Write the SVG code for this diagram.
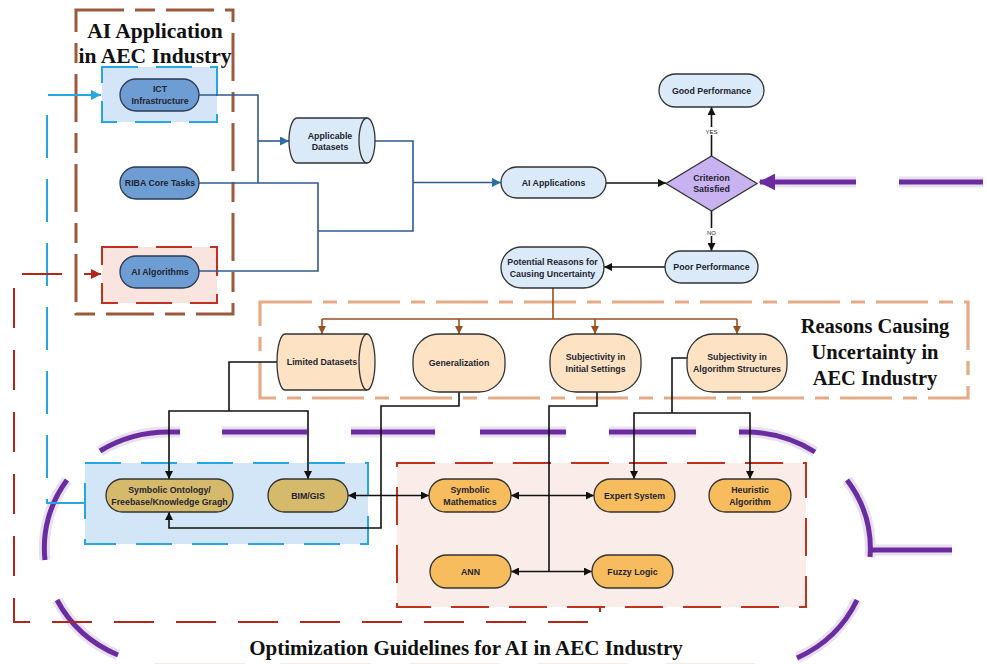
<svg xmlns="http://www.w3.org/2000/svg" width="987" height="664" viewBox="0 0 987 664">
<style>
.nt{font-family:"Liberation Sans",Arial,sans-serif;font-weight:bold;font-size:8.8px;fill:#1e2430;text-anchor:middle}
.sm{font-family:"Liberation Sans",Arial,sans-serif;font-size:6px;fill:#222;text-anchor:middle}
.ttl{font-family:"Liberation Serif","Times New Roman",serif;font-weight:bold;fill:#111;text-anchor:middle}
.dk{fill:#6e9dd4;stroke:#2b3a52;stroke-width:1.3}
.lb{fill:#dbeaf8;stroke:#333;stroke-width:1.3}
.pc{fill:#fde2c4;stroke:#333;stroke-width:1.3}
.kh{fill:#d6ba6b;stroke:#333;stroke-width:1.3}
.or{fill:#f6bc5e;stroke:#333;stroke-width:1.3}
.blue{fill:none;stroke:#2f5b8f;stroke-width:1.6}
.blk{fill:none;stroke:#111;stroke-width:1.6}
.brn{fill:none;stroke:#9a4f1e;stroke-width:1.6}
.pur{fill:none;stroke:#6a2ca0;stroke-width:5}
.halo{fill:none;stroke:#e8e0f0;stroke-width:11}
</style>
<defs>
<marker id="aBlue" viewBox="0 0 10 10" refX="10" refY="5" markerUnits="userSpaceOnUse" markerWidth="10" markerHeight="9" orient="auto-start-reverse"><path d="M0,0 L10,5 L0,10 z" fill="#2e6da4"/></marker>
<marker id="aBlk" viewBox="0 0 10 10" refX="10" refY="5" markerUnits="userSpaceOnUse" markerWidth="9" markerHeight="8" orient="auto-start-reverse"><path d="M0,0 L10,5 L0,10 z" fill="#111"/></marker>
<marker id="aBrn" viewBox="0 0 10 10" refX="10" refY="5" markerUnits="userSpaceOnUse" markerWidth="9" markerHeight="8" orient="auto-start-reverse"><path d="M0,0 L10,5 L0,10 z" fill="#9a4f1e"/></marker>
<marker id="aCy" viewBox="0 0 10 10" refX="10" refY="5" markerUnits="userSpaceOnUse" markerWidth="11" markerHeight="10" orient="auto-start-reverse"><path d="M0,0 L10,5 L0,10 z" fill="#27a6df"/></marker>
<marker id="aRed" viewBox="0 0 10 10" refX="10" refY="5" markerUnits="userSpaceOnUse" markerWidth="11" markerHeight="10" orient="auto-start-reverse"><path d="M0,0 L10,5 L0,10 z" fill="#b5261a"/></marker>
<marker id="aPur" viewBox="0 0 10 10" refX="9" refY="5" markerUnits="userSpaceOnUse" markerWidth="17" markerHeight="17" orient="auto-start-reverse"><path d="M0,0 L10,5 L0,10 z" fill="#6a2ca0"/></marker>
</defs>
<rect width="987" height="664" fill="#fff"/>

<g id="regions">
  <g class="halo">
    <path d="M100,451 A125,118 0 0 1 168,432 L180,432"/>
    <path d="M67,480 A125,118 0 0 0 45,560"/>
    <path d="M57,600 A125,118 0 0 0 118,655"/>
    <path d="M222,432 H307 M351,432 H435 M480,432 H566 M609,432 H696"/>
    <path d="M739,432 H745 A125,118 0 0 1 815,452"/>
    <path d="M847,480 A125,118 0 0 1 870,557"/>
    <path d="M857,600 A125,118 0 0 1 797,658"/>
    <path d="M869,550 H952"/>
    <path d="M856,182 H770 M899,182 H983"/>
  </g>
  <path d="M154,670 H245 M280,670 H371 M409,670 H500 M537,670 H628 M665,670 H755" fill="none" stroke="#f6ebe6" stroke-width="14"/>
  <g class="pur">
    <path d="M100,451 A125,118 0 0 1 168,432 L180,432"/>
    <path d="M67,480 A125,118 0 0 0 45,560"/>
    <path d="M57,600 A125,118 0 0 0 118,655"/>
    <path d="M222,432 H307 M351,432 H435 M480,432 H566 M609,432 H696"/>
    <path d="M739,432 H745 A125,118 0 0 1 815,452"/>
    <path d="M847,480 A125,118 0 0 1 870,557"/>
    <path d="M857,600 A125,118 0 0 1 797,658"/>
    <path d="M869,550 H952"/>
  </g>
  <rect x="76" y="10" width="157" height="304" fill="none" stroke="#9c5a3c" stroke-width="3" stroke-dasharray="48 11 20 11"/>
  <rect x="260" y="302" width="708" height="96" fill="none" stroke="#e3ab86" stroke-width="3.2" stroke-dasharray="52 11 14 11"/>
  <rect x="102" y="67" width="115" height="55" fill="#d3e5f6" stroke="none"/>
  <rect x="102" y="67" width="115" height="55" fill="none" stroke="#27a6df" stroke-width="2" stroke-dasharray="36 18"/>
  <rect x="102" y="247" width="115" height="56" fill="#f9e4e0" stroke="none"/>
  <rect x="102" y="247" width="115" height="56" fill="none" stroke="#c0321e" stroke-width="2" stroke-dasharray="36 18"/>
  <rect x="85" y="463" width="283" height="81" fill="#d3e6f7" stroke="none"/>
  <rect x="85" y="463" width="283" height="81" fill="none" stroke="#27a6df" stroke-width="2" stroke-dasharray="36 20"/>
  <rect x="397" y="463" width="409" height="144" fill="#faece8" stroke="none"/>
  <rect x="397" y="463" width="409" height="144" fill="none" stroke="#c0321e" stroke-width="2" stroke-dasharray="38 20"/>
  <text class="ttl" x="155" y="38" font-size="21.5">AI Application</text>
  <text class="ttl" x="155" y="63" font-size="21.5">in AEC Industry</text>
  <text class="ttl" x="875" y="333" font-size="20.5">Reasons Causing</text>
  <text class="ttl" x="875" y="359" font-size="20.5">Uncertainty in</text>
  <text class="ttl" x="875" y="385" font-size="20.5">AEC Industry</text>
  <text class="ttl" x="466" y="655" font-size="21">Optimization Guidelines for AI in AEC Industry</text>
</g>

<g id="connectors">
  <path d="M48,95 H101" fill="none" stroke="#27a6df" stroke-width="2" marker-end="url(#aCy)"/>
  <path d="M47,115 V503 H85" fill="none" stroke="#27a6df" stroke-width="2" stroke-dasharray="43 21"/>
  <path d="M101,274 H14 V622 H600 V607" fill="none" stroke="#b5261a" stroke-width="2" stroke-dasharray="40 22" stroke-dashoffset="23" marker-start="url(#aRed)"/>
  <path class="blue" d="M199,95 H258 V183"/>
  <path class="blue" d="M199,183 H318 V271 H199"/>
  <path class="blue" d="M258,141 H289" marker-end="url(#aBlue)"/>
  <path class="blue" d="M369,141 H413 V231 H318"/>
  <path class="blue" d="M413,182.5 H501" marker-end="url(#aBlue)"/>
  <path class="blk" d="M606,183 H666" marker-end="url(#aBlk)"/>
  <path class="blk" d="M711.5,156 V107" marker-end="url(#aBlk)"/>
  <path class="blk" d="M711.5,211 V251" marker-end="url(#aBlk)"/>
  <path class="blk" d="M665,267 H604" marker-end="url(#aBlk)"/>
  <rect x="702" y="127" width="19" height="8" fill="#fff"/>
  <text class="sm" x="711.5" y="133.5">YES</text>
  <rect x="704" y="228" width="15" height="8" fill="#fff"/>
  <text class="sm" x="711.5" y="234.5">NO</text>
  <path class="pur" d="M856,182 H760" marker-end="url(#aPur)"/>
  <path class="pur" d="M899,182 H983"/>
  <path class="brn" d="M553,288 V319 M322,319 H737"/>
  <path class="brn" d="M322,319 V334" marker-end="url(#aBrn)"/>
  <path class="brn" d="M459,319 V334" marker-end="url(#aBrn)"/>
  <path class="brn" d="M595,319 V334" marker-end="url(#aBrn)"/>
  <path class="brn" d="M737,319 V334" marker-end="url(#aBrn)"/>
  <path class="blk" d="M277,362 H229 V411"/>
  <path class="blk" d="M229,411 H169 V479" marker-end="url(#aBlk)"/>
  <path class="blk" d="M229,411 H308 V479" marker-end="url(#aBlk)"/>
  <path class="blk" d="M459,392 V406 H381 V528 H169 V512" marker-end="url(#aBlk)"/>
  <path class="blk" d="M597,392 V406 H549 V571.5"/>
  <path class="blk" d="M688,358 H672 V413"/>
  <path class="blk" d="M672,413 H634 V479" marker-end="url(#aBlk)"/>
  <path class="blk" d="M672,413 H750 V479" marker-end="url(#aBlk)"/>
  <path class="blk" d="M348,495.5 H429" marker-start="url(#aBlk)" marker-end="url(#aBlk)"/>
  <path class="blk" d="M511,495.5 H594" marker-start="url(#aBlk)" marker-end="url(#aBlk)"/>
  <path class="blk" d="M511,571.5 H592" marker-start="url(#aBlk)" marker-end="url(#aBlk)"/>
</g>

<g id="ict">
  <rect class="dk" x="120" y="79" width="79" height="32" rx="16"/>
  <text class="nt" x="160" y="92">ICT</text>
  <text class="nt" x="160" y="103.5">Infrastructure</text>
</g>
<g id="riba">
  <rect class="dk" x="120" y="167" width="79" height="32" rx="16"/>
  <text class="nt" x="160" y="186">RIBA Core Tasks</text>
</g>
<g id="ai-algorithms">
  <rect class="dk" x="120" y="256" width="79" height="32" rx="16"/>
  <text class="nt" x="160" y="275">AI Algorithms</text>
</g>
<g id="applicable-datasets">
  <path class="lb" d="M297,118 H367 A8,22.5 0 0 1 367,163 H297 A8,22.5 0 0 1 297,118 Z"/>
  <path d="M367,118 A8,22.5 0 0 0 367,163" fill="none" stroke="#333" stroke-width="1.3"/>
  <text class="nt" x="330" y="138.5">Applicable</text>
  <text class="nt" x="330" y="150">Datasets</text>
</g>
<g id="ai-applications">
  <rect class="lb" x="501" y="167" width="105" height="31" rx="15.5"/>
  <text class="nt" x="553.5" y="185.5">AI Applications</text>
</g>
<g id="criterion">
  <polygon points="711.5,156 757,183.5 711.5,211 666,183.5" fill="#c9b2f0" stroke="#333" stroke-width="1.3"/>
  <text class="nt" x="711.5" y="180.5">Criterion</text>
  <text class="nt" x="711.5" y="192">Satisfied</text>
</g>
<g id="good-performance">
  <rect class="lb" x="659" y="74" width="105" height="33" rx="16.5"/>
  <text class="nt" x="711.5" y="93.5">Good Performance</text>
</g>
<g id="poor-performance">
  <rect class="lb" x="665" y="251" width="93" height="32" rx="16"/>
  <text class="nt" x="711.5" y="270">Poor Performance</text>
</g>
<g id="potential-reasons">
  <rect class="lb" x="501" y="247" width="103" height="41" rx="20.5"/>
  <text class="nt" x="552.5" y="264.5">Potential Reasons for</text>
  <text class="nt" x="552.5" y="276.5">Causing Uncertainty</text>
</g>
<g id="limited-datasets">
  <path class="pc" d="M285,334 H367 A8,28 0 0 1 367,390 H285 A8,28 0 0 1 285,334 Z"/>
  <path d="M367,334 A8,28 0 0 0 367,390" fill="none" stroke="#333" stroke-width="1.3"/>
  <text class="nt" x="322" y="365">Limited Datasets</text>
</g>
<g id="generalization">
  <rect class="pc" x="413" y="334" width="92" height="58" rx="26"/>
  <text class="nt" x="459" y="366">Generalization</text>
</g>
<g id="subjectivity-initial">
  <rect class="pc" x="550" y="334" width="91" height="58" rx="26"/>
  <text class="nt" x="595.5" y="359.5">Subjectivity in</text>
  <text class="nt" x="595.5" y="371.5">Initial Settings</text>
</g>
<g id="subjectivity-algorithm">
  <rect class="pc" x="687" y="334" width="100" height="58" rx="26"/>
  <text class="nt" x="737" y="359.5">Subjectivity in</text>
  <text class="nt" x="737" y="371.5">Algorithm Structures</text>
</g>
<g id="symbolic-ontology">
  <rect class="kh" x="106" y="479" width="127" height="33" rx="16.5"/>
  <text class="nt" x="169.5" y="492.5">Symbolic Ontology/</text>
  <text class="nt" x="169.5" y="504.5">Freebase/Knowledge Gragh</text>
</g>
<g id="bim-gis">
  <rect class="kh" x="268" y="479" width="80" height="33" rx="16.5"/>
  <text class="nt" x="308" y="498.5">BIM/GIS</text>
</g>
<g id="symbolic-mathematics">
  <rect class="or" x="429" y="479" width="82" height="33" rx="16.5"/>
  <text class="nt" x="470" y="492.5">Symbolic</text>
  <text class="nt" x="470" y="504.5">Mathematics</text>
</g>
<g id="expert-system">
  <rect class="or" x="594" y="479" width="81" height="33" rx="16.5"/>
  <text class="nt" x="634.5" y="498.5">Expert System</text>
</g>
<g id="heuristic-algorithm">
  <rect class="or" x="709" y="479" width="82" height="33" rx="16.5"/>
  <text class="nt" x="750" y="492.5">Heuristic</text>
  <text class="nt" x="750" y="504.5">Algorithm</text>
</g>
<g id="ann">
  <rect class="or" x="430" y="555" width="81" height="33" rx="16.5"/>
  <text class="nt" x="470.5" y="574.5">ANN</text>
</g>
<g id="fuzzy-logic">
  <rect class="or" x="592" y="555" width="81" height="33" rx="16.5"/>
  <text class="nt" x="632.5" y="574.5">Fuzzy Logic</text>
</g>
</svg>
